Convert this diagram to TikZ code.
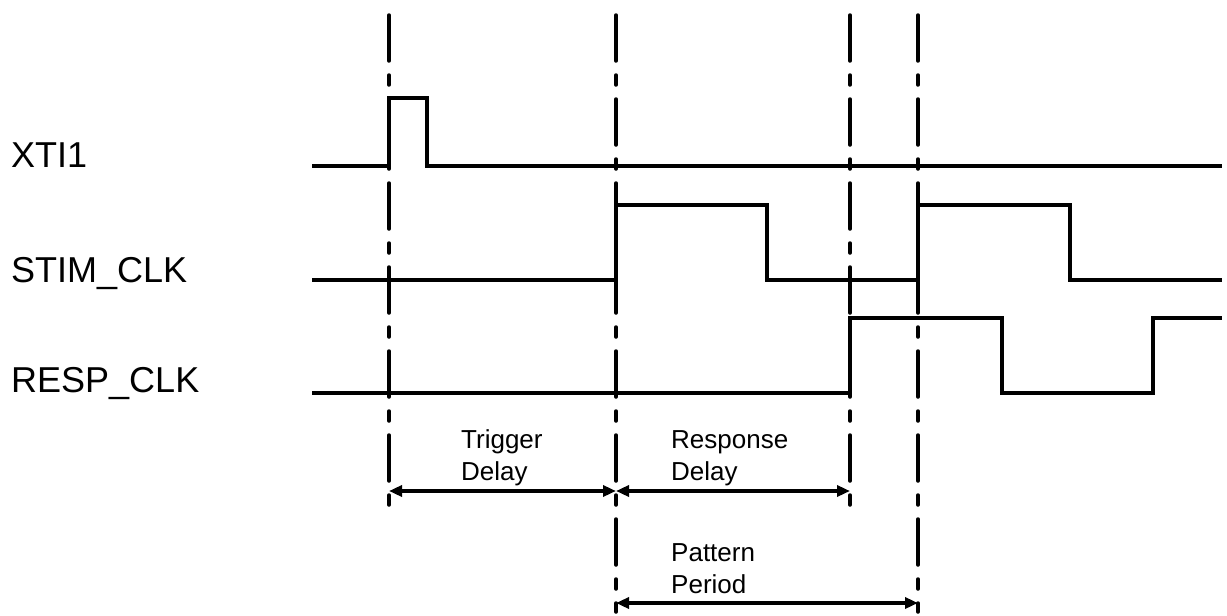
\documentclass[tikz,border=0pt]{standalone}
\usepackage{fontspec}
\setmainfont{Liberation Sans}
\usetikzlibrary{arrows.meta}
\begin{document}
\begin{tikzpicture}[x=1pt,y=-1pt,
  sig/.style={line width=4pt,line join=miter,line cap=butt},
  guide/.style={line width=3.5pt,line cap=round,dash pattern=on 46pt off 14pt on 10pt off 14pt},
  dim/.style={line width=3.5pt,{Triangle[length=13pt,width=11pt]}-{Triangle[length=13pt,width=11pt]}},
  lab/.style={anchor=base west,font=\fontsize{36}{40}\selectfont,inner sep=0pt},
  dlab/.style={anchor=base west,font=\fontsize{26}{32}\selectfont,inner sep=0pt,align=left}]
\useasboundingbox (0,0) rectangle (1227,616);
% guide coordinates
\coordinate (a1) at (389,15); \coordinate (a2) at (389,506);
\coordinate (b1) at (616,15); \coordinate (b2) at (616,612);
\coordinate (c1) at (850,15); \coordinate (c2) at (850,506);
\coordinate (d1) at (918,15); \coordinate (d2) at (918,612);
\draw[guide] (a1) -- (a2);
\draw[guide] (b1) -- (b2);
\draw[guide] (c1) -- (c2);
\draw[guide] (d1) -- (d2);
% labels
\node[lab] (xti) at (11,167) {XTI1};
\node[lab] (stim) at (11,282) {STIM\_CLK};
\node[lab] (resp) at (11,392) {RESP\_CLK};
% signals
\draw[sig] (312,166) -- (389,166) -- (389,98) -- (427,98) -- (427,166) -- (1222,166);
\draw[sig] (312,280) -- (616,280) -- (616,205) -- (767,205) -- (767,280) -- (918,280) -- (918,205) -- (1070,205) -- (1070,280) -- (1222,280);
\draw[sig] (312,393) -- (850,393) -- (850,318) -- (1002,318) -- (1002,393) -- (1153,393) -- (1153,318) -- (1222,318);
% dimension arrows
\coordinate (ta) at (389,491); \coordinate (tb) at (616,491);
\coordinate (rb) at (850,491);
\coordinate (pa) at (616,603); \coordinate (pb) at (918,603);
\draw[dim] (ta) -- (tb);
\draw[dim] (tb) -- (rb);
\draw[dim] (pa) -- (pb);
\node[dlab] (trig) at (461,480) {Trigger\\Delay};
\node[dlab] (rdel) at (671,480) {Response\\Delay};
\node[dlab] (pper) at (671,593) {Pattern\\Period};
\end{tikzpicture}
\end{document}
